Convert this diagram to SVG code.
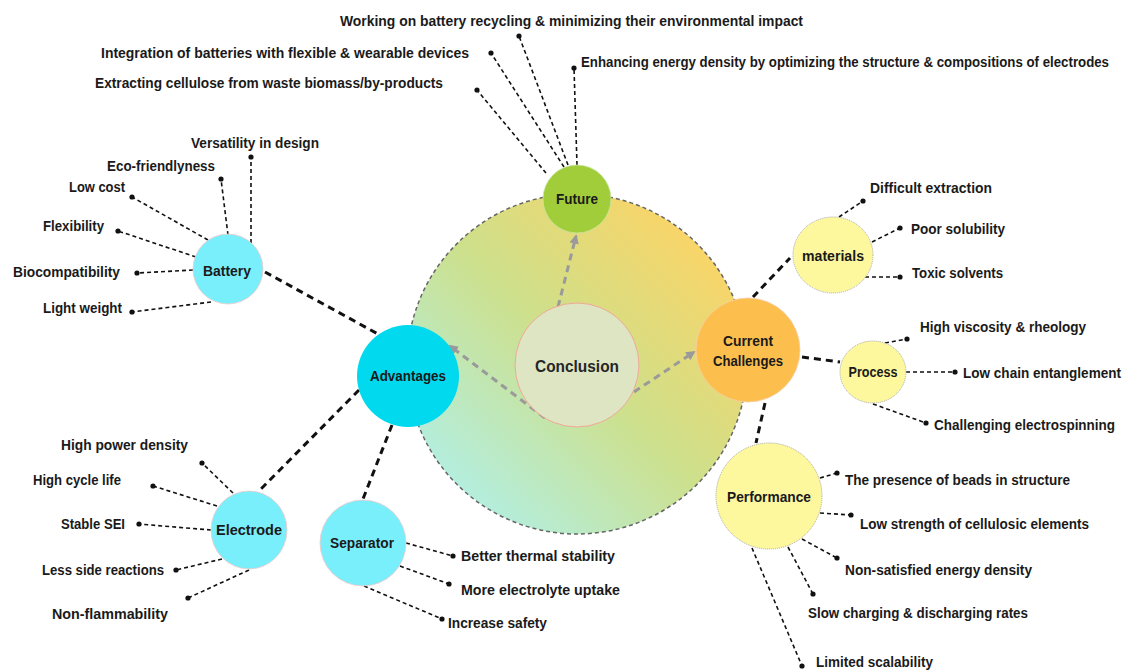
<svg xmlns="http://www.w3.org/2000/svg" width="1126" height="670" viewBox="0 0 1126 670">
<style>
text{font-family:"Liberation Sans",Arial,sans-serif;font-weight:bold;font-size:14px;fill:#1a1a1a}
.node{font-size:14.5px;text-anchor:middle}
.concl{font-size:17px;font-weight:bold;text-anchor:middle;fill:#262626}
.thick{stroke:#111;stroke-width:3;stroke-dasharray:7 5;fill:none}
.leaf{stroke:#111;stroke-width:1.6;stroke-dasharray:4 3;fill:none;marker-end:url(#dot)}
.gray{stroke:#9a9a9a;stroke-width:3;stroke-dasharray:7 5;fill:none;marker-end:url(#arr)}
.cyan{fill:#7aeffc;stroke:#f3c9c9;stroke-width:0.8}
.yel{fill:#fdf79d;stroke:#a8a8a8;stroke-width:1;stroke-dasharray:1 1}
</style>
<defs>
<linearGradient id="bg" x1="0.12" y1="0.88" x2="0.88" y2="0.12">
<stop offset="0" stop-color="#b2efe4"/>
<stop offset="0.5" stop-color="#cde08c"/>
<stop offset="1" stop-color="#fbd466"/>
</linearGradient>
<marker id="dot" viewBox="0 0 6 6" refX="3" refY="3" markerWidth="6" markerHeight="6" markerUnits="userSpaceOnUse"><circle cx="3" cy="3" r="2.6" fill="#111"/></marker>
<marker id="arr" viewBox="0 0 10 10" refX="8" refY="5" markerWidth="3.2" markerHeight="3.2" orient="auto"><path d="M0,0 L10,5 L0,10 z" fill="#9a9a9a"/></marker>
</defs>

<g id="background-circle">
<circle cx="577" cy="364" r="170" fill="url(#bg)" stroke="#666" stroke-width="1.5" stroke-dasharray="4 3"/>
</g>

<g id="connectors">
<line class="thick" x1="265" y1="272" x2="378" y2="334"/>
<line class="thick" x1="359" y1="390" x2="260" y2="490"/>
<line class="thick" x1="392" y1="425" x2="363" y2="499"/>
<line class="thick" x1="753" y1="297" x2="790" y2="258"/>
<line class="thick" x1="802" y1="357" x2="840" y2="362"/>
<line class="thick" x1="765" y1="403" x2="756" y2="443"/>
<line class="gray" x1="558" y1="307" x2="576" y2="236"/>
<line class="gray" x1="545" y1="418" x2="450" y2="346"/>
<line class="gray" x1="634" y1="392" x2="694" y2="352"/>
<line class="leaf" x1="251" y1="243" x2="251" y2="157"/>
<line class="leaf" x1="228" y1="235" x2="221" y2="179"/>
<line class="leaf" x1="208" y1="240" x2="132" y2="197"/>
<line class="leaf" x1="196" y1="257" x2="118" y2="231"/>
<line class="leaf" x1="193" y1="270" x2="137" y2="273"/>
<line class="leaf" x1="211" y1="302" x2="132" y2="312"/>
<line class="leaf" x1="546" y1="173" x2="477" y2="90"/>
<line class="leaf" x1="564" y1="167" x2="491" y2="53"/>
<line class="leaf" x1="568" y1="165" x2="519" y2="36"/>
<line class="leaf" x1="577" y1="165" x2="574" y2="68"/>
<line class="leaf" x1="839" y1="217" x2="863" y2="201"/>
<line class="leaf" x1="872" y1="242" x2="900" y2="228"/>
<line class="leaf" x1="865" y1="277" x2="900" y2="277"/>
<line class="leaf" x1="885" y1="343" x2="907" y2="339"/>
<line class="leaf" x1="906" y1="372" x2="955" y2="372"/>
<line class="leaf" x1="873" y1="404" x2="926" y2="423"/>
<line class="leaf" x1="820" y1="478" x2="837" y2="473"/>
<line class="leaf" x1="820" y1="513" x2="851" y2="515"/>
<line class="leaf" x1="802" y1="539" x2="837" y2="558"/>
<line class="leaf" x1="788" y1="547" x2="813" y2="594"/>
<line class="leaf" x1="752" y1="548" x2="802" y2="666"/>
<line class="leaf" x1="233" y1="493" x2="202" y2="463"/>
<line class="leaf" x1="217" y1="506" x2="153" y2="486"/>
<line class="leaf" x1="211" y1="530" x2="139" y2="524"/>
<line class="leaf" x1="222" y1="559" x2="176" y2="570"/>
<line class="leaf" x1="249" y1="570" x2="188" y2="598"/>
<line class="leaf" x1="406" y1="543" x2="453" y2="556"/>
<line class="leaf" x1="400" y1="566" x2="449" y2="584"/>
<line class="leaf" x1="364" y1="586" x2="442" y2="619"/>
</g>

<g id="conclusion">
<circle cx="577" cy="365" r="62" fill="#dde5c3" stroke="#f0a898" stroke-width="1"/>
<text class="concl" x="577" y="372" textLength="84" lengthAdjust="spacingAndGlyphs">Conclusion</text>
</g>
<g id="future">
<circle cx="577" cy="199" r="34" fill="#a2cd3a" stroke="#c8e6a0" stroke-width="0.8"/>
<text class="node" x="577" y="204" textLength="42" lengthAdjust="spacingAndGlyphs">Future</text>
</g>
<g id="current-challenges">
<circle cx="748" cy="350" r="52" fill="#fcbf4e" stroke="#f6cfa8" stroke-width="0.8"/>
<text class="node" x="748" y="346" textLength="50" lengthAdjust="spacingAndGlyphs">Current</text>
<text class="node" x="748" y="366" textLength="70" lengthAdjust="spacingAndGlyphs">Challenges</text>
</g>
<g id="advantages">
<circle cx="408" cy="376" r="51" fill="#00d9ee"/>
<text class="node" x="408" y="381" textLength="76" lengthAdjust="spacingAndGlyphs">Advantages</text>
</g>
<g id="battery">
<circle class="cyan" cx="228" cy="269" r="35"/>
<text class="node" x="227" y="276" textLength="48" lengthAdjust="spacingAndGlyphs">Battery</text>
</g>
<g id="electrode">
<ellipse class="cyan" cx="249" cy="530" rx="38" ry="39"/>
<text class="node" x="249" y="535" textLength="66" lengthAdjust="spacingAndGlyphs">Electrode</text>
</g>
<g id="separator">
<circle class="cyan" cx="363" cy="543" r="43"/>
<text class="node" x="362" y="548" textLength="64" lengthAdjust="spacingAndGlyphs">Separator</text>
</g>
<g id="materials">
<ellipse class="yel" cx="833" cy="255" rx="40" ry="38"/>
<text class="node" x="833" y="261" textLength="62" lengthAdjust="spacingAndGlyphs">materials</text>
</g>
<g id="process">
<ellipse class="yel" cx="873" cy="372" rx="33" ry="31"/>
<text class="node" x="873" y="377" textLength="49" lengthAdjust="spacingAndGlyphs">Process</text>
</g>
<g id="performance">
<circle class="yel" cx="769" cy="496" r="53"/>
<text class="node" x="769" y="502" textLength="84" lengthAdjust="spacingAndGlyphs">Performance</text>
</g>

<g id="labels">
<text x="191" y="148" textLength="128" lengthAdjust="spacingAndGlyphs">Versatility in design</text>
<text x="107" y="171" textLength="108" lengthAdjust="spacingAndGlyphs">Eco-friendlyness</text>
<text x="69" y="192" textLength="56" lengthAdjust="spacingAndGlyphs">Low cost</text>
<text x="43" y="231" textLength="61" lengthAdjust="spacingAndGlyphs">Flexibility</text>
<text x="13" y="277" textLength="107" lengthAdjust="spacingAndGlyphs">Biocompatibility</text>
<text x="43" y="313" textLength="79" lengthAdjust="spacingAndGlyphs">Light weight</text>
<text x="95" y="88" textLength="348" lengthAdjust="spacingAndGlyphs">Extracting cellulose from waste biomass/by-products</text>
<text x="101" y="58" textLength="368" lengthAdjust="spacingAndGlyphs">Integration of batteries with flexible &amp; wearable devices</text>
<text x="340" y="26" textLength="463" lengthAdjust="spacingAndGlyphs">Working on battery recycling &amp; minimizing their environmental impact</text>
<text x="581" y="67" font-size="12" textLength="528" lengthAdjust="spacingAndGlyphs">Enhancing energy density by optimizing the structure &amp; compositions of electrodes</text>
<text x="870" y="193" textLength="122" lengthAdjust="spacingAndGlyphs">Difficult extraction</text>
<text x="911" y="234" textLength="94" lengthAdjust="spacingAndGlyphs">Poor solubility</text>
<text x="912" y="278" textLength="91" lengthAdjust="spacingAndGlyphs">Toxic solvents</text>
<text x="920" y="332" textLength="166" lengthAdjust="spacingAndGlyphs">High viscosity &amp; rheology</text>
<text x="963" y="378" textLength="158" lengthAdjust="spacingAndGlyphs">Low chain entanglement</text>
<text x="934" y="430" textLength="181" lengthAdjust="spacingAndGlyphs">Challenging electrospinning</text>
<text x="845" y="485" textLength="225" lengthAdjust="spacingAndGlyphs">The presence of beads in structure</text>
<text x="860" y="529" textLength="229" lengthAdjust="spacingAndGlyphs">Low strength of cellulosic elements</text>
<text x="845" y="575" textLength="187" lengthAdjust="spacingAndGlyphs">Non-satisfied energy density</text>
<text x="808" y="618" textLength="220" lengthAdjust="spacingAndGlyphs">Slow charging &amp; discharging rates</text>
<text x="816" y="667" textLength="117" lengthAdjust="spacingAndGlyphs">Limited scalability</text>
<text x="61" y="450" textLength="127" lengthAdjust="spacingAndGlyphs">High power density</text>
<text x="33" y="485" textLength="88" lengthAdjust="spacingAndGlyphs">High cycle life</text>
<text x="61" y="529" textLength="64" lengthAdjust="spacingAndGlyphs">Stable SEI</text>
<text x="42" y="575" textLength="122" lengthAdjust="spacingAndGlyphs">Less side reactions</text>
<text x="52" y="619" textLength="116" lengthAdjust="spacingAndGlyphs">Non-flammability</text>
<text x="461" y="561" textLength="154" lengthAdjust="spacingAndGlyphs">Better thermal stability</text>
<text x="461" y="595" textLength="159" lengthAdjust="spacingAndGlyphs">More electrolyte uptake</text>
<text x="448" y="628" textLength="99" lengthAdjust="spacingAndGlyphs">Increase safety</text>
</g>
</svg>
